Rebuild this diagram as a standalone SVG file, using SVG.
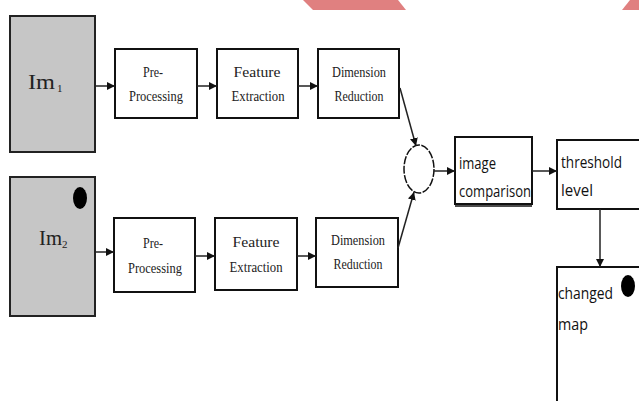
<svg xmlns="http://www.w3.org/2000/svg" width="639" height="401" viewBox="0 0 639 401">
<style>
.img{fill:#c6c6c6;stroke:#222;stroke-width:2}
.box{fill:#fff;stroke:#111;stroke-width:2}
.ser{font-family:"Liberation Serif","DejaVu Serif",serif;font-size:14px;fill:#222;text-anchor:middle}
.big{font-family:"Liberation Serif","DejaVu Serif",serif;font-size:20px;fill:#222}
.sub{font-family:"Liberation Serif","DejaVu Serif",serif;font-size:11px;fill:#222}
.sans{font-family:"Open Sans","Liberation Sans",sans-serif;font-size:16px;fill:#111}
.ln{stroke:#222;stroke-width:1.5;fill:none}
</style>
<defs>
<marker id="ah" viewBox="0 0 10 10" refX="10" refY="5" markerWidth="8" markerHeight="8" orient="auto" markerUnits="userSpaceOnUse">
<path d="M0,0 L10,5 L0,10 z" fill="#111"/>
</marker>
</defs>
<g id="decor">
<polygon points="303,0 398,0 406,10 313,10" fill="#e08080"/>
<polygon points="630,0 639,0 639,10 622,10" fill="#e08080"/>
</g>
<g id="im1">
<rect class="img" x="10" y="16" width="85" height="136"/>
<text class="big" x="28" y="89" textLength="27" lengthAdjust="spacingAndGlyphs">Im</text>
<text class="sub" x="57" y="92">1</text>
</g>
<g id="im2">
<rect class="img" x="10" y="177" width="85" height="139"/>
<ellipse cx="80" cy="198" rx="7" ry="11" fill="#000"/>
<text class="big" x="39" y="245" textLength="23" lengthAdjust="spacingAndGlyphs">Im</text>
<text class="sub" x="62" y="248">2</text>
</g>
<g id="pre1">
<rect class="box" x="115" y="49" width="82" height="69"/>
<text class="ser" x="153" y="77" textLength="20" lengthAdjust="spacingAndGlyphs">Pre-</text>
<text class="ser" x="156" y="101" textLength="54" lengthAdjust="spacingAndGlyphs">Processing</text>
</g>
<g id="feat1">
<rect class="box" x="217" y="49" width="81" height="69"/>
<text class="ser" x="257" y="77" textLength="47" lengthAdjust="spacingAndGlyphs">Feature</text>
<text class="ser" x="258" y="101" textLength="53" lengthAdjust="spacingAndGlyphs">Extraction</text>
</g>
<g id="dim1">
<rect class="box" x="318" y="49" width="81" height="69"/>
<text class="ser" x="359" y="77" textLength="54" lengthAdjust="spacingAndGlyphs">Dimension</text>
<text class="ser" x="359" y="101" textLength="49" lengthAdjust="spacingAndGlyphs">Reduction</text>
</g>
<g id="pre2">
<rect class="box" x="114" y="218" width="81" height="74"/>
<text class="ser" x="153" y="248" textLength="20" lengthAdjust="spacingAndGlyphs">Pre-</text>
<text class="ser" x="155" y="273" textLength="54" lengthAdjust="spacingAndGlyphs">Processing</text>
</g>
<g id="feat2">
<rect class="box" x="215" y="218" width="82" height="72"/>
<text class="ser" x="256" y="247" textLength="47" lengthAdjust="spacingAndGlyphs">Feature</text>
<text class="ser" x="256" y="272" textLength="53" lengthAdjust="spacingAndGlyphs">Extraction</text>
</g>
<g id="dim2">
<rect class="box" x="316" y="218" width="82" height="69"/>
<text class="ser" x="358" y="245" textLength="54" lengthAdjust="spacingAndGlyphs">Dimension</text>
<text class="ser" x="358" y="269" textLength="49" lengthAdjust="spacingAndGlyphs">Reduction</text>
</g>
<g id="join">
<ellipse cx="419" cy="169" rx="15" ry="24" fill="#fff" stroke="#111" stroke-width="1.5" stroke-dasharray="8 1.5"/>
</g>
<g id="compare">
<rect class="box" x="455" y="137" width="77" height="67"/>
<line x1="455" y1="206" x2="532" y2="206" stroke="#111" stroke-width="1.5"/>
<text class="sans" x="459" y="169" textLength="37" lengthAdjust="spacingAndGlyphs">image</text>
<text class="sans" x="459" y="197" textLength="72" lengthAdjust="spacingAndGlyphs">comparison</text>
</g>
<g id="threshold">
<rect class="box" x="557" y="140" width="90" height="69"/>
<text class="sans" x="561" y="168" textLength="61" lengthAdjust="spacingAndGlyphs">threshold</text>
<text class="sans" x="561" y="196" textLength="32" lengthAdjust="spacingAndGlyphs">level</text>
</g>
<g id="changed">
<rect class="box" x="557" y="267" width="90" height="150"/>
<text class="sans" x="558" y="299" textLength="55" lengthAdjust="spacingAndGlyphs">changed</text>
<text class="sans" x="558" y="330" textLength="30" lengthAdjust="spacingAndGlyphs">map</text>
<ellipse cx="628" cy="286" rx="7" ry="11" fill="#000"/>
</g>
<g id="connectors">
<line class="ln" x1="95" y1="86" x2="115" y2="86" marker-end="url(#ah)"/>
<line class="ln" x1="197" y1="86" x2="217" y2="86" marker-end="url(#ah)"/>
<line class="ln" x1="298" y1="86" x2="318" y2="86" marker-end="url(#ah)"/>
<line class="ln" x1="95" y1="252" x2="114" y2="252" marker-end="url(#ah)"/>
<line class="ln" x1="195" y1="256" x2="215" y2="256" marker-end="url(#ah)"/>
<line class="ln" x1="297" y1="256" x2="316" y2="256" marker-end="url(#ah)"/>
<line class="ln" x1="400" y1="88" x2="416" y2="146" marker-end="url(#ah)"/>
<line class="ln" x1="398" y1="248" x2="414" y2="192" marker-end="url(#ah)"/>
<line class="ln" x1="434" y1="171" x2="455" y2="171" marker-end="url(#ah)"/>
<line class="ln" x1="532" y1="171" x2="557" y2="171" marker-end="url(#ah)"/>
<line class="ln" x1="600" y1="209" x2="600" y2="267" marker-end="url(#ah)"/>
</g>
</svg>
